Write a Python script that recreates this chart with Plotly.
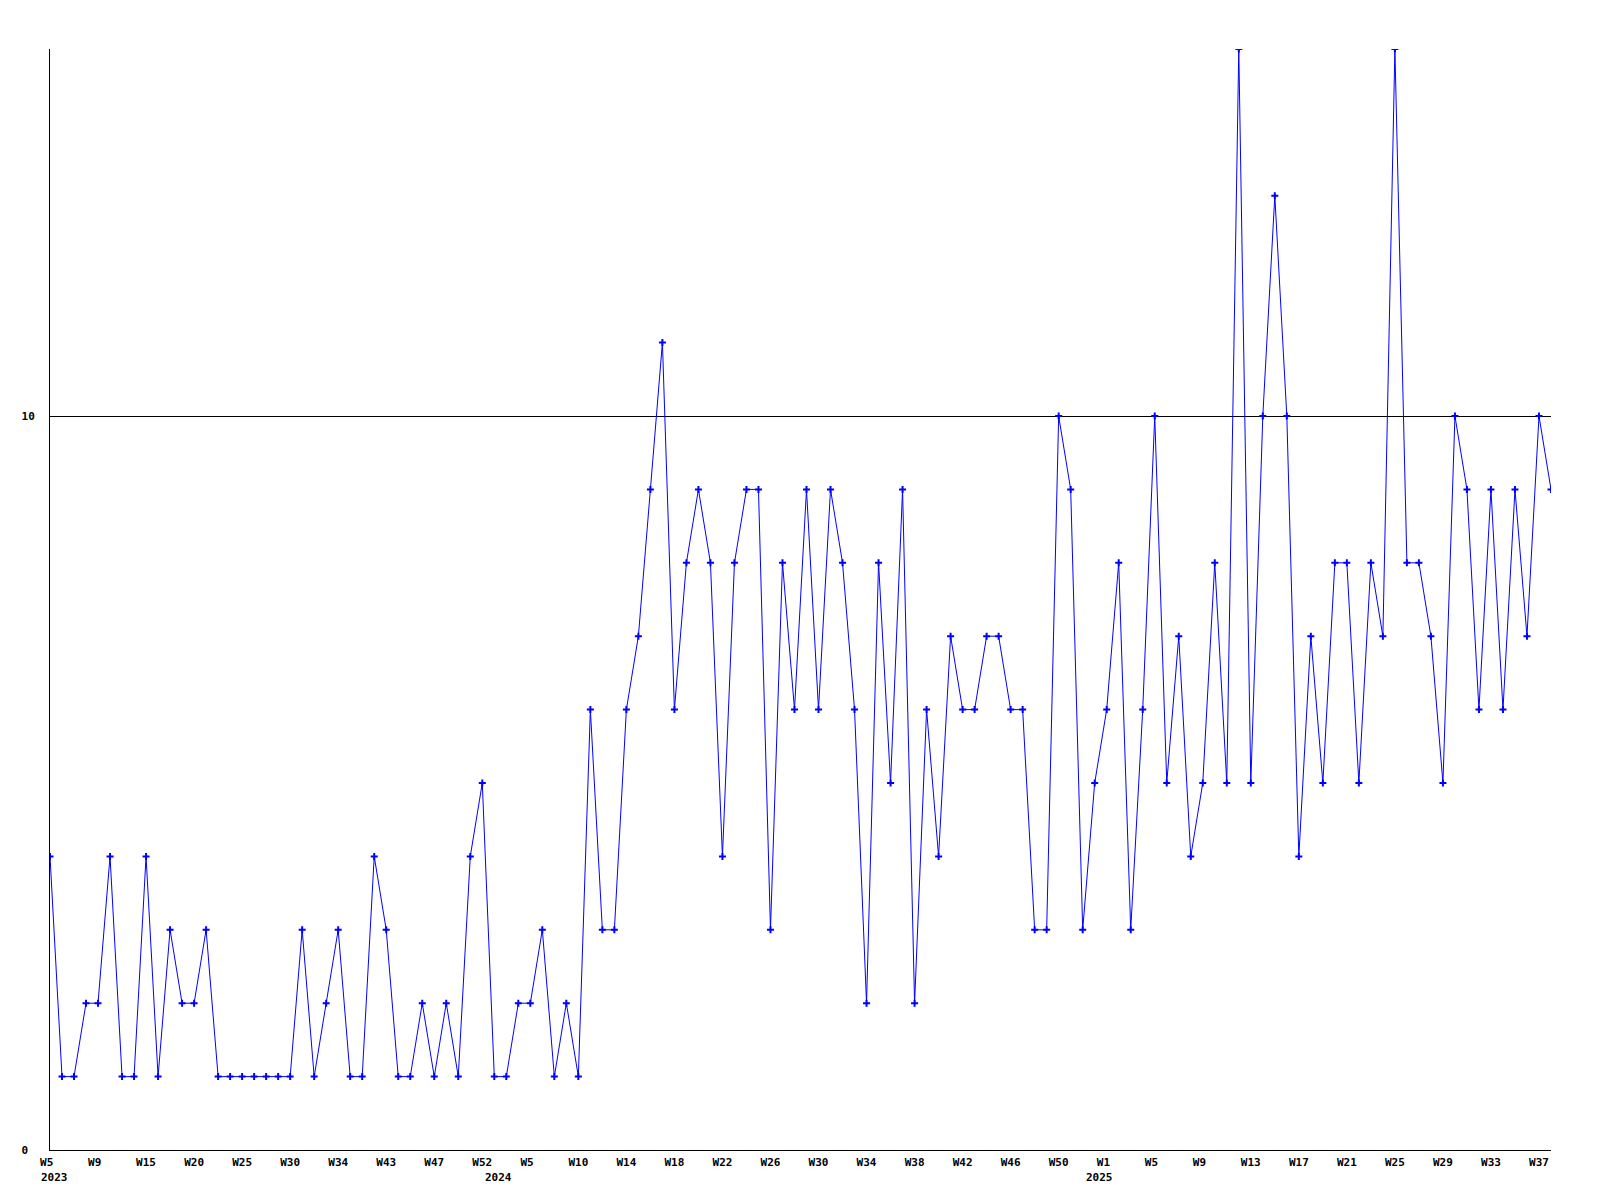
import plotly.graph_objects as go

# Weekly values, one per data point (oldest first)
values = [
    4, 1, 1, 2, 2, 4, 1, 1, 4, 1, 3, 2, 2, 3, 1,
    1, 1, 1, 1, 1, 1,
    3, 1, 2, 3, 1, 1, 4, 3, 1, 1, 2, 1, 2, 1, 4,
    5, 1, 1, 2, 2, 3, 1, 2, 1,
    6, 3, 3, 6, 7, 9, 11, 6, 8, 9, 8, 4, 8, 9, 9, 3, 8, 6, 9, 6,
    9, 8, 6, 2, 8, 5, 9, 2, 6, 4, 7, 6, 6, 7, 7, 6, 6, 3, 3, 10, 9,
    3, 5, 6, 8, 3, 6, 10, 5, 7, 4, 5, 8, 5, 15, 5, 10, 13, 10, 4, 7,
    5, 8, 8, 5, 8, 7, 15, 8, 8, 7, 5, 10, 9, 6, 9, 6, 9, 7, 10, 9,
]

# Week tick labels, shown every 4th point
week_labels = [
    "W5", "W9", "W15", "W20", "W25", "W30", "W34", "W43", "W47", "W52",
    "W5", "W10", "W14", "W18", "W22", "W26", "W30", "W34", "W38", "W42", "W46", "W50",
    "W1", "W5", "W9", "W13", "W17", "W21", "W25", "W29", "W33", "W37",
]
label_step = 4

# Year labels and the point index where each year starts
years = ["2023", "2024", "2025"]
year_start_index = [0, 37, 87]

y_tick_values = [0, 10]
y_tick_labels = ["0", "10"]

x_idx = list(range(len(values)))
tick_pos = [i * label_step for i in range(len(week_labels))]
NB = "\u00a0"
tick_text = [t + NB * (3 - len(t)) for t in week_labels]

FONT = "DejaVu Sans Mono"

fig = go.Figure()
fig.add_trace(go.Scatter(
    x=x_idx, y=values, mode="lines+markers",
    line=dict(color="#0000ff", width=1),
    marker=dict(symbol="cross-thin", size=5, color="#0000ff",
                line=dict(color="#0000ff", width=2)),
    showlegend=False, hoverinfo="x+y",
))

for yr, idx in zip(years, year_start_index):
    fig.add_annotation(
        x=idx, y=0, xref="x", yref="paper", text=yr, showarrow=False,
        xanchor="left", yanchor="middle", xshift=-11, yshift=-27,
        font=dict(family=FONT, size=11, color="black", weight="bold"),
    )

fig.update_layout(
    width=1600, height=1200,
    margin=dict(l=42, r=57, t=41, b=58),
    paper_bgcolor="white", plot_bgcolor="white",
    font=dict(family=FONT, size=11, color="black"),
)
fig.update_xaxes(
    range=[0, len(values) - 1], showline=True, linecolor="black", linewidth=1,
    showgrid=False, zeroline=False, ticks="", ticklabelstandoff=2,
    tickmode="array", tickvals=tick_pos, ticktext=tick_text, tickangle=0,
    tickfont=dict(family=FONT, size=11, color="black", weight="bold"),
)
fig.update_yaxes(
    range=[0, 15], showline=True, linecolor="black", linewidth=1,
    showgrid=True, gridcolor="black", gridwidth=1, zeroline=False, ticks="",
    ticklabelstandoff=12,
    tickmode="array", tickvals=y_tick_values,
    ticktext=[t + NB * (2 - len(t)) for t in y_tick_labels],
    tickfont=dict(family=FONT, size=11, color="black", weight="bold"),
)

fig.write_html("out.html")
